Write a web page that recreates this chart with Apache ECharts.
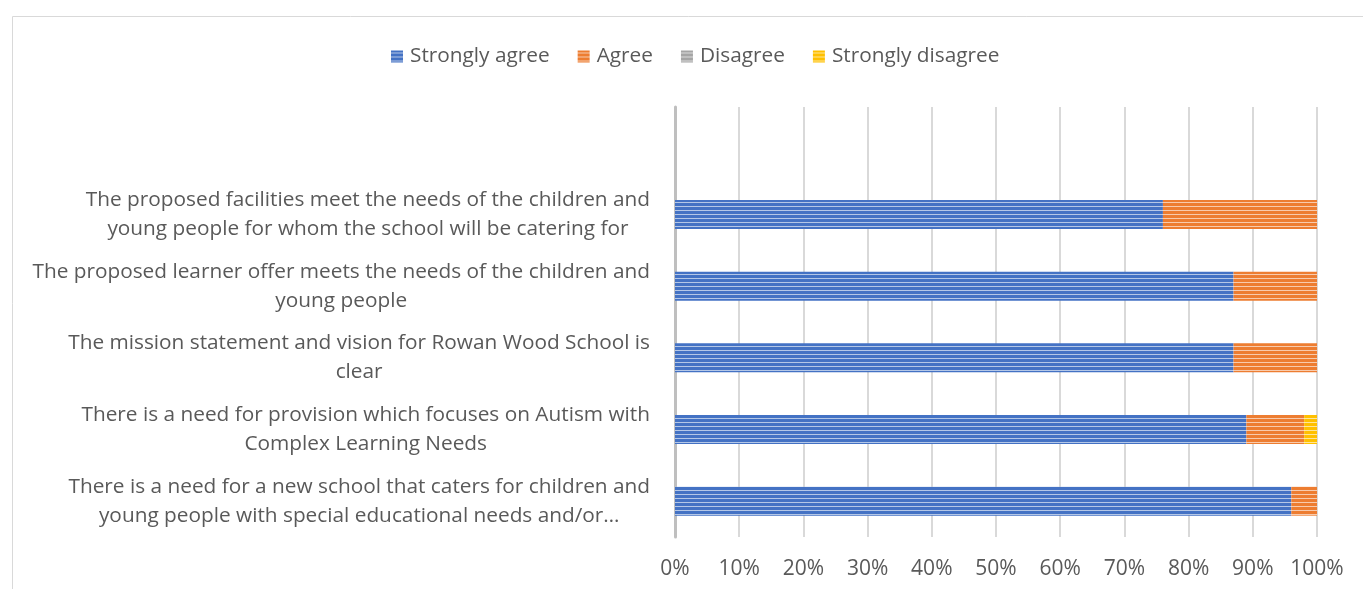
<!DOCTYPE html>
<html><head><meta charset="utf-8">
<script src="https://cdn.jsdelivr.net/npm/echarts@6/dist/echarts.min.js"></script>
<style>html,body{margin:0;padding:0;background:#fff;}#c{width:1363px;height:589px;}</style>
</head><body><div id="c"></div>
<script>
var categories = [
  "",
  "The proposed facilities meet the needs of the children and\nyoung people for whom the school will be catering for",
  "The proposed learner offer meets the needs of the children and\nyoung people",
  "The mission statement and vision for Rowan Wood School is\nclear",
  "There is a need for provision which focuses on Autism with\nComplex Learning Needs",
  "There is a need for a new school that caters for children and\nyoung people with special educational needs and/or\u2026"
];
var stronglyAgree = [null, 76, 87, 87, 89, 96];
var agree = [null, 24, 13, 13, 9, 4];
var disagree = [null, 0, 0, 0, 0, 0];
var stronglyDisagree = [null, 0, 0, 0, 2, 0];
var xTicks = [0, 10, 20, 30, 40, 50, 60, 70, 80, 90, 100];

function stripe(base, light) {
  var c = document.createElement('canvas');
  c.width = 4; c.height = 4;
  var g = c.getContext('2d');
  g.fillStyle = base; g.fillRect(0, 0, 4, 4);
  g.fillStyle = light; g.fillRect(0, 2, 4, 1);
  return {image: c, repeat: 'repeat'};
}
var colors = [
  stripe('#4472C4', '#B4C7E7'),
  stripe('#ED7D31', '#F8CBAD'),
  stripe('#A5A5A5', '#DBDBDB'),
  stripe('#FFC000', '#FFE699')
];
var font = '"Open Sans", "Noto Sans", sans-serif';
var chart = echarts.init(document.getElementById('c'));
function s(name, data, i) {
  return {name: name, type: 'bar', stack: 'total', data: data, barWidth: 29,
    itemStyle: {color: colors[i]}, emphasis: {disabled: true}};
}
chart.setOption({
  animation: false,
  graphic: [{type: 'rect', silent: true, shape: {x: 12.5, y: 16.5, width: 1500, height: 800},
    style: {fill: 'none', stroke: '#D9D9D9', lineWidth: 1}}],
  legend: {top: 41, left: 386, icon: 'rect', itemWidth: 12, itemHeight: 12, itemGap: 28,
    textStyle: {fontFamily: font, fontSize: 20.8, color: '#595959', padding: [0, 0, 0, 2]},
    data: ['Strongly agree', 'Agree', 'Disagree', 'Strongly disagree']},
  grid: {left: 675, right: 46, top: 107, bottom: 52, containLabel: false},
  xAxis: {type: 'value', min: 0, max: 100, interval: 10,
    axisLine: {show: false}, axisTick: {show: false},
    splitLine: {lineStyle: {color: '#D9D9D9', width: 2}},
    axisLabel: {margin: 22, fontFamily: font, fontSize: 21, color: '#595959',
      formatter: function (v) { return xTicks.indexOf(v) >= 0 ? v + '%' : ''; }}},
  yAxis: {type: 'category', inverse: true, data: categories,
    axisLine: {lineStyle: {color: '#BFBFBF', width: 3}}, axisTick: {show: false},
    axisLabel: {margin: 25, align: 'right', fontFamily: font, fontSize: 20.8, lineHeight: 29, color: '#595959',
      formatter: function (v) {
        return v ? v.split('\n').map(function (l) { return '{c|' + l + '}'; }).join('\n') : '';
      },
      rich: {c: {align: 'center', fontFamily: font, fontSize: 20.8, lineHeight: 29, color: '#595959'}}}},
  series: [
    s('Strongly agree', stronglyAgree, 0),
    s('Agree', agree, 1),
    s('Disagree', disagree, 2),
    s('Strongly disagree', stronglyDisagree, 3)
  ]
});
</script></body></html>
